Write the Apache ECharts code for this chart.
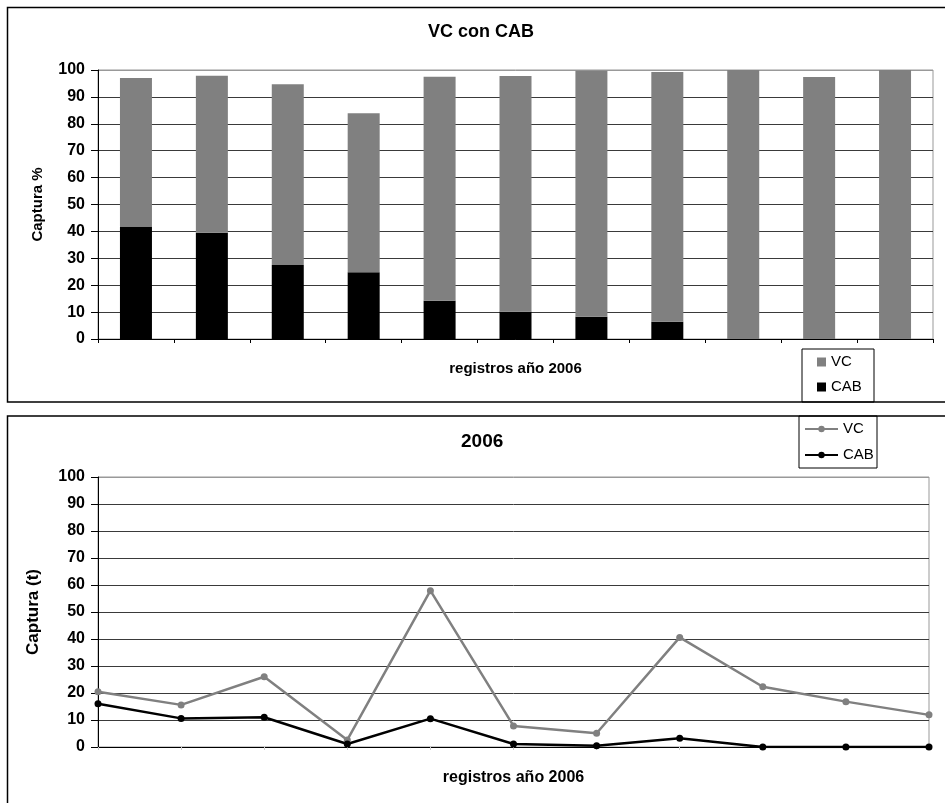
<!DOCTYPE html>
<html>
<head>
<meta charset="utf-8">
<script src="https://cdn.jsdelivr.net/npm/echarts@6/dist/echarts.min.js"></script>
<style>
html,body{margin:0;padding:0;background:#fff;}
#c{width:945px;height:803px;}
</style>
</head>
<body>
<div id="c"></div>
<script>
// ---- data ----
var categories = ['1','2','3','4','5','6','7','8','9','10','11'];
// top chart: capture % (stacked: CAB bottom, VC on top)
var cabPct = [41.8, 39.5, 27.5, 24.8, 14.2, 10.1, 8.3, 6.4, 0, 0, 0];
var vcPct  = [55.2, 58.4, 67.2, 59.1, 83.3, 87.7, 91.4, 92.9, 100, 97.4, 100];
// bottom chart: capture (t)
var vcTon  = [20.5, 15.6, 26.0, 2.6, 57.9, 7.8, 5.1, 40.6, 22.3, 16.8, 11.9];
var cabTon = [16.0, 10.6, 11.0, 1.1, 10.5, 1.1, 0.5, 3.2, 0, 0, 0];
var yTicks = [0,10,20,30,40,50,60,70,80,90,100];

var FONT = '"Liberation Sans", Arial, sans-serif';
var GRAY = '#808080';

var gridLineColors = yTicks.map(function(v){ return v === 100 ? '#999999' : '#3a3a3a'; });

function yAxis(gridIndex, name, nameSize, nameGap){
  return {
    type: 'value', gridIndex: gridIndex, min: yTicks[0], max: yTicks[yTicks.length-1], interval: 10,
    name: name, nameLocation: 'middle', nameGap: nameGap,
    nameTextStyle: {fontFamily: FONT, fontWeight: 'bold', fontSize: nameSize, color: '#000'},
    axisLine: {show: true, lineStyle: {color: '#000', width: 1}},
    axisTick: {show: true, length: 7, lineStyle: {color: '#000'}},
    axisLabel: {fontFamily: FONT, fontWeight: 'bold', fontSize: 16, color: '#000', margin: 13},
    splitLine: {show: true, lineStyle: {color: gridLineColors, width: 1}}
  };
}

var chart = echarts.init(document.getElementById('c'), null, {renderer: 'canvas'});
chart.setOption({
  animation: false,
  backgroundColor: '#fff',
  title: [
    {text: 'VC con CAB', left: 428, top: 23, padding: 0,
     textStyle: {fontFamily: FONT, fontWeight: 'bold', fontSize: 18, color: '#000'}},
    {text: '2006', left: 461, top: 432, padding: 0,
     textStyle: {fontFamily: FONT, fontWeight: 'bold', fontSize: 19, color: '#000'}}
  ],
  grid: [
    {left: 98, top: 70, width: 835, height: 269, show: true, borderColor: '#999', borderWidth: 1, backgroundColor: 'transparent'},
    {left: 98, top: 477, width: 831, height: 270, show: true, borderColor: '#999', borderWidth: 1, backgroundColor: 'transparent'}
  ],
  xAxis: [
    {type: 'category', gridIndex: 0, data: categories, boundaryGap: true,
     name: 'registros año 2006', nameLocation: 'middle', nameGap: 22,
     nameTextStyle: {fontFamily: FONT, fontWeight: 'bold', fontSize: 15, color: '#000'},
     axisLine: {lineStyle: {color: '#000', width: 1}},
     axisTick: {show: true, length: 4, lineStyle: {color: '#000'}},
     axisLabel: {show: false}, splitLine: {show: false}},
    {type: 'category', gridIndex: 1, data: categories, boundaryGap: false,
     name: 'registros año 2006', nameLocation: 'middle', nameGap: 23,
     nameTextStyle: {fontFamily: FONT, fontWeight: 'bold', fontSize: 16, color: '#000'},
     axisLine: {lineStyle: {color: '#000', width: 1}},
     axisTick: {show: true, length: 3, lineStyle: {color: '#cccccc'}},
     axisLabel: {show: false}, splitLine: {show: false}}
  ],
  yAxis: [
    yAxis(0, 'Captura %', 15, 53),
    yAxis(1, 'Captura (t)', 17, 56)
  ],
  legend: [
    {orient: 'vertical', left: 817, top: 354, padding: 0, itemGap: 9,
     itemWidth: 9, itemHeight: 9, icon: 'rect',
     data: ['VC', 'CAB'],
     textStyle: {fontFamily: FONT, fontSize: 15, color: '#000', lineHeight: 16}},
    {orient: 'vertical', left: 804, top: 421, padding: 0, itemGap: 10,
     itemWidth: 33, itemHeight: 8,
     data: ['VC ', 'CAB '],
     formatter: function(n){ return n.trim(); },
     textStyle: {fontFamily: FONT, fontSize: 15, color: '#000', lineHeight: 16}}
  ],
  series: [
    {name: 'CAB', type: 'bar', stack: 'pct', xAxisIndex: 0, yAxisIndex: 0, data: cabPct,
     barWidth: 32, itemStyle: {color: '#000'}},
    {name: 'VC', type: 'bar', stack: 'pct', xAxisIndex: 0, yAxisIndex: 0, data: vcPct,
     barWidth: 32, itemStyle: {color: GRAY}},
    {name: 'VC ', type: 'line', xAxisIndex: 1, yAxisIndex: 1, data: vcTon,
     symbol: 'circle', symbolSize: 7, lineStyle: {color: GRAY, width: 2.5}, itemStyle: {color: GRAY}},
    {name: 'CAB ', type: 'line', xAxisIndex: 1, yAxisIndex: 1, data: cabTon,
     symbol: 'circle', symbolSize: 7, lineStyle: {color: '#000', width: 2.5}, itemStyle: {color: '#000'}}
  ],
  graphic: [
    {type: 'rect', shape: {x: 7.5, y: 7.5, width: 960, height: 394.5}, silent: true, z: -1,
     style: {fill: 'none', stroke: '#000', lineWidth: 1.5}},
    {type: 'rect', shape: {x: 7.5, y: 416, width: 960, height: 400}, silent: true, z: -1,
     style: {fill: 'none', stroke: '#000', lineWidth: 1.5}},
    {type: 'rect', shape: {x: 802, y: 349, width: 72, height: 53}, silent: true, z: 10,
     style: {fill: 'none', stroke: '#000', lineWidth: 1}},
    {type: 'rect', shape: {x: 799, y: 416, width: 78, height: 52}, silent: true, z: 10,
     style: {fill: 'none', stroke: '#000', lineWidth: 1}}
  ]
});
</script>
</body>
</html>
